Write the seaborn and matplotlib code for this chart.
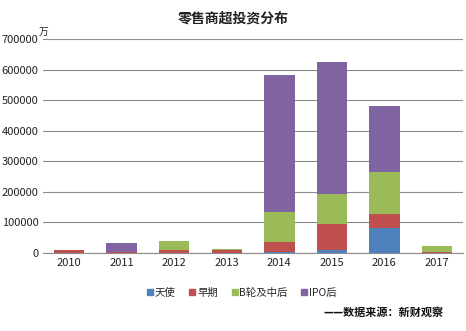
import matplotlib
matplotlib.use("Agg")
import matplotlib.pyplot as plt
import seaborn as sns
import pandas as pd
import numpy as np
from matplotlib.lines import Line2D

years = ["2010", "2011", "2012", "2013", "2014", "2015", "2016", "2017"]
angel = [0, 0, 0, 0, 3000, 10000, 80000, 0]
early = [10000, 2000, 8000, 8000, 34000, 84000, 46000, 3000]
round_b = [0, 1000, 32000, 5000, 97000, 99000, 139000, 19000]
post_ipo = [0, 30000, 0, 0, 448000, 433000, 216000, 0]

series_names = ["天使", "早期", "B轮及中后", "IPO后"]
colors = ["#4F81BD", "#C0504D", "#9BBB59", "#8064A2"]

sns.set_theme(style="white")
plt.rcParams['font.family'] = ['Noto Sans CJK SC', 'DejaVu Sans']

fig = plt.figure(figsize=(4.66, 3.31), dpi=100)
ax = fig.add_axes([0.092, 0.236, 0.902, 0.646])

vals = np.array([angel, early, round_b, post_ipo], dtype=float)
cum = np.cumsum(vals, axis=0)

ax.yaxis.grid(True, color="#8c8c8c", linewidth=0.8)
ax.set_axisbelow(True)

for i in range(3, -1, -1):
    df = pd.DataFrame({"year": years, "value": cum[i]})
    sns.barplot(data=df, x="year", y="value", color=colors[i], width=0.58,
                saturation=1, ax=ax, zorder=2, linewidth=0, edgecolor="none")

ax.set_ylim(0, 700000)
ax.set_yticks(np.arange(0, 700001, 100000))
ax.set_yticklabels([str(v) for v in range(0, 700001, 100000)], fontsize=8, color="#222222")
ax.tick_params(axis='x', labelsize=8, colors="#222222", length=0, pad=4)
ax.tick_params(axis='y', length=0, pad=3)
ax.set_xlabel("")
ax.set_ylabel("")
ax.set_xlim(-0.5, 7.5)
for s in ["top", "right", "left"]:
    ax.spines[s].set_visible(False)
ax.spines["bottom"].set_color("#8c8c8c")
ax.spines["bottom"].set_linewidth(0.8)

fig.text(0.5, 0.945, "零售商超投资分布", ha="center", va="center", fontsize=10, fontweight="bold", color="#222222")
fig.text(0.082, 0.905, "万", ha="left", va="center", fontsize=7, color="#222222")

handles = [Line2D([0], [0], marker="s", linestyle="", markersize=4, markerfacecolor=c, markeredgecolor=c) for c in colors]
fig.legend(handles, series_names, loc="center", bbox_to_anchor=(0.518, 0.115), ncol=4, frameon=False,
           fontsize=7.5, handletextpad=0.05, columnspacing=1.2, handlelength=0.8)

fig.text(0.952, 0.057, "——数据来源：新财观察", ha="right", va="center", fontsize=8, fontweight="bold", color="#111111")

fig.savefig("out.png", dpi=100)
